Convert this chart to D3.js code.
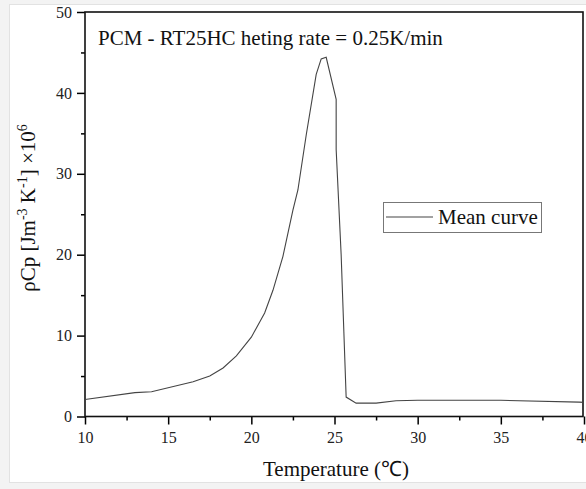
<!DOCTYPE html>
<html lang="en">
<head>
    <meta charset="UTF-8">
    <title>PCM RT25HC</title>
    <script src="https://cdnjs.cloudflare.com/ajax/libs/d3/7.8.5/d3.min.js"></script>
    <style>
        body { margin: 0; background: #f3f3f3; }
        svg { display: block; }
    </style>
</head>
<body>
    <svg id="chart" width="586" height="489"></svg>

    <script>
        // temperature (C) and rho*Cp (x10^6)
        const temperature = [10, 13, 14, 16.5, 17.5, 18.3, 19.1, 20, 20.8, 21.3, 21.9, 22.5, 22.8, 23.3, 23.9, 24.2, 24.5,
            25.1, 25.1, 25.4, 25.7, 26.3, 27.5, 28.7, 30, 35, 39.7, 40];
        const rhoCp = [2.1, 2.95, 3.05, 4.3, 5.0, 6.0, 7.5, 9.8, 12.8, 15.6, 19.8, 25.5, 28.0, 34.8, 42.3, 44.2, 44.4,
            39.2, 33.0, 20.0, 2.4, 1.65, 1.65, 1.95, 2.0, 2.0, 1.78, 1.75];
        const xTicks = [10, 15, 20, 25, 30, 35, 40];
        const yTicks = [0, 10, 20, 30, 40, 50];

        const serif = '"Liberation Serif", "Times New Roman", serif';
        const svg = d3.select('#chart');
        const margin = { left: 85, right: 2, top: 12, bottom: 72 };
        const width = 586, height = 489;

        // figure background
        svg.append('rect')
            .attr('x', 9.5).attr('y', 4.5)
            .attr('width', 600).attr('height', 478)
            .attr('fill', 'white').attr('stroke', '#e2e2e2');

        const x = d3.scaleLinear().domain([10, 40]).range([margin.left, width - margin.right]);
        const y = d3.scaleLinear().domain([0, 50]).range([height - margin.bottom - 0.5, margin.top]);

        // minor ticks
        svg.append('g')
            .attr('transform', `translate(0,${y(0)})`)
            .call(d3.axisBottom(x).tickValues(d3.range(12.5, 40, 5)).tickSize(4).tickFormat(''))
            .call(g => g.select('.domain').remove())
            .selectAll('line').attr('stroke-width', 1.5);
        svg.append('g')
            .attr('transform', `translate(${x(10)},0)`)
            .call(d3.axisLeft(y).tickValues(d3.range(5, 50, 10)).tickSize(4).tickFormat(''))
            .call(g => g.select('.domain').remove())
            .selectAll('line').attr('stroke-width', 1.5);

        // major ticks
        const xAxis = svg.append('g')
            .attr('transform', `translate(0,${y(0)})`)
            .call(d3.axisBottom(x).tickValues(xTicks).tickSize(8).tickPadding(7).tickSizeOuter(0));
        xAxis.attr('font-family', serif).attr('font-size', 16);
        xAxis.selectAll('text').attr('font-family', serif).attr('font-size', 16).attr('fill', '#222');
        xAxis.selectAll('line').attr('stroke-width', 1.5);
        xAxis.select('.domain').remove();

        const yAxis = svg.append('g')
            .attr('transform', `translate(${x(10)},0)`)
            .call(d3.axisLeft(y).tickValues(yTicks).tickSize(8).tickPadding(5).tickSizeOuter(0));
        yAxis.attr('font-family', serif).attr('font-size', 16);
        yAxis.selectAll('text').attr('font-family', serif).attr('font-size', 16).attr('fill', '#222');
        yAxis.selectAll('line').attr('stroke-width', 1.5);
        yAxis.select('.domain').remove();

        // frame
        svg.append('rect')
            .attr('x', x(10)).attr('y', y(50))
            .attr('width', x(40) - x(10) - 1).attr('height', y(0) - y(50))
            .attr('fill', 'none').attr('stroke', '#111').attr('stroke-width', 1.6);

        // curve
        const line = d3.line()
            .x((d, i) => x(temperature[i]))
            .y(d => y(d));
        svg.append('path')
            .datum(rhoCp)
            .attr('d', line)
            .attr('fill', 'none')
            .attr('stroke', '#444')
            .attr('stroke-width', 1.1);

        // title inside plot
        svg.append('text')
            .attr('x', 98).attr('y', 45)
            .attr('font-family', serif).attr('font-size', 21).attr('fill', '#111')
            .text('PCM - RT25HC heting rate = 0.25K/min');

        // legend
        const legend = svg.append('g');
        legend.append('rect')
            .attr('x', 383.5).attr('y', 202.5).attr('width', 158).attr('height', 30)
            .attr('fill', 'white').attr('stroke', '#777');
        legend.append('line')
            .attr('x1', 386).attr('x2', 433).attr('y1', 217).attr('y2', 217)
            .attr('stroke', '#444').attr('stroke-width', 1.1);
        legend.append('text')
            .attr('x', 438).attr('y', 224)
            .attr('font-family', serif).attr('font-size', 21).attr('fill', '#111')
            .text('Mean curve');

        // axis titles
        svg.append('text')
            .attr('x', 336).attr('y', 476)
            .attr('text-anchor', 'middle')
            .attr('font-family', serif).attr('font-size', 21).attr('fill', '#111')
            .text('Temperature (℃)');

        const yTitle = svg.append('text')
            .attr('transform', 'translate(35,208) rotate(-90)')
            .attr('text-anchor', 'middle')
            .attr('font-family', serif).attr('font-size', 21).attr('fill', '#111');
        yTitle.append('tspan').text('ρCp [Jm');
        yTitle.append('tspan').attr('font-size', 14).attr('dy', -8).text('-3');
        yTitle.append('tspan').attr('dy', 8).text(' K');
        yTitle.append('tspan').attr('font-size', 14).attr('dy', -8).text('-1');
        yTitle.append('tspan').attr('dy', 8).text('] ×10');
        yTitle.append('tspan').attr('font-size', 14).attr('dy', -8).text('6');
    </script>
</body>
</html>
